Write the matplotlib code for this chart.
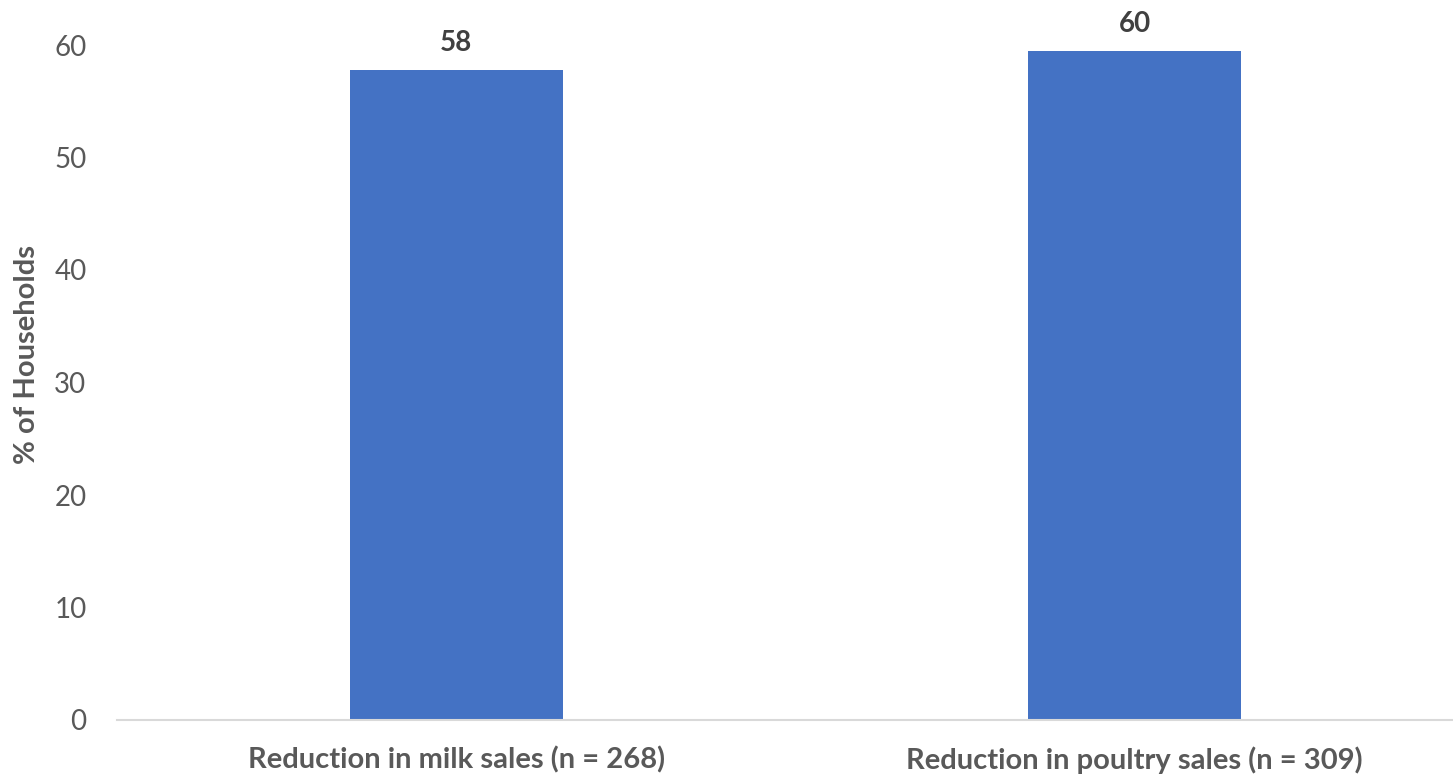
import matplotlib.pyplot as plt

categories = ["Reduction in milk sales (n = 268)", "Reduction in poultry sales (n = 309)"]
values = [57.8, 59.5]
yticks = [0, 10, 20, 30, 40, 50, 60]

plt.rcParams['font.family'] = ['Lato', 'DejaVu Sans']

W, H = 1453, 776
fig = plt.figure(figsize=(W / 100, H / 100), dpi=100)
# axes spans x 117..1474 px, y 45..720 px
ax = fig.add_axes([117 / W, 56 / H, 1357 / W, 675 / H])

x = range(len(categories))
bars = ax.bar(x, values, width=0.314, color='#4472C4', zorder=2)

for b, v in zip(bars, values):
    ax.annotate(f"{v:.0f}", (b.get_x() + b.get_width() / 2, v),
                xytext=(0, 10), textcoords='offset points',
                ha='center', va='bottom', fontsize=20, fontweight='bold',
                color='#404040', annotation_clip=False)

ax.set_xlim(-0.5, 1.5)
ax.set_ylim(0, 60)
ax.set_yticks(yticks)
ax.set_xticks(list(x))
ax.set_xticklabels(categories, fontsize=21, fontweight='bold', color='#595959')
ax.tick_params(axis='y', labelsize=20, labelcolor='#595959', length=0, pad=22)
ax.tick_params(axis='x', length=0, pad=19)

for s in ['top', 'right', 'left']:
    ax.spines[s].set_visible(False)
ax.spines['bottom'].set_color('#D9D9D9')
ax.spines['bottom'].set_linewidth(1.5)

ax.set_ylabel("% of Households", fontsize=21, fontweight='bold', color='#595959')
ax.yaxis.set_label_coords((40 - 117) / 1357, (720 - 355) / 675)

fig.savefig("out.png", dpi=100)
